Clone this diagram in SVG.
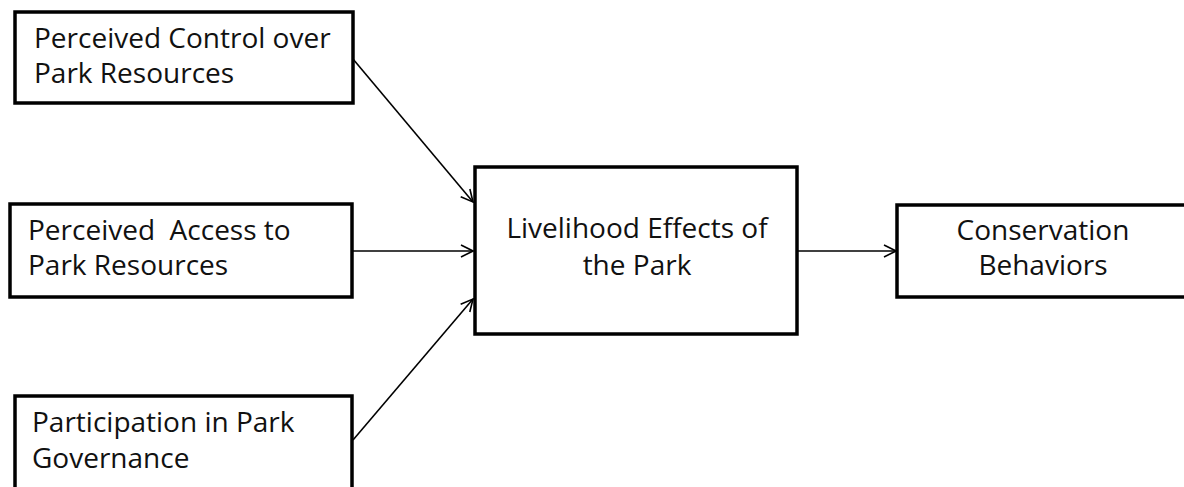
<svg xmlns="http://www.w3.org/2000/svg" width="1184" height="487" viewBox="0 0 1184 487">
  <style>
    .box { fill: #ffffff; stroke: #000000; stroke-width: 3.5; }
    .lbl { font-family: "Open Sans", "Noto Sans", sans-serif; font-size: 28px; fill: #111111; }
    .mid { text-anchor: middle; }
    .edge { fill: none; stroke: #000000; stroke-width: 1.6; }
  </style>
  <defs>
    <marker id="open-arrow" viewBox="0 0 14 14" refX="13" refY="7" markerWidth="14" markerHeight="14" markerUnits="userSpaceOnUse" orient="auto">
      <path d="M1,1 L13,7 L1,13" fill="none" stroke="#000000" stroke-width="1.6"/>
    </marker>
  </defs>
  <rect width="1184" height="487" fill="#ffffff"/>

  <g id="connectors">
    <line class="edge" x1="353" y1="59" x2="473" y2="202" marker-end="url(#open-arrow)"/>
    <line class="edge" x1="352" y1="251" x2="473" y2="251" marker-end="url(#open-arrow)"/>
    <line class="edge" x1="353" y1="440" x2="473" y2="299" marker-end="url(#open-arrow)"/>
    <line class="edge" x1="797" y1="251" x2="896" y2="251" marker-end="url(#open-arrow)"/>
  </g>

  <g id="perceived-control">
    <rect class="box" x="15" y="12" width="338" height="91"/>
    <text class="lbl" x="34" y="48">Perceived Control over</text>
    <text class="lbl" x="34" y="83">Park Resources</text>
  </g>

  <g id="perceived-access">
    <rect class="box" x="10" y="204" width="342" height="93"/>
    <text class="lbl" x="28" y="240" xml:space="preserve">Perceived  Access to</text>
    <text class="lbl" x="28" y="275">Park Resources</text>
  </g>

  <g id="participation">
    <rect class="box" x="15" y="396" width="337" height="96"/>
    <text class="lbl" x="32" y="432">Participation in Park</text>
    <text class="lbl" x="32" y="468">Governance</text>
  </g>

  <g id="livelihood-effects">
    <rect class="box" x="475" y="167" width="322" height="167"/>
    <text class="lbl mid" x="637" y="238">Livelihood Effects of</text>
    <text class="lbl mid" x="637" y="275">the Park</text>
  </g>

  <g id="conservation-behaviors">
    <rect class="box" x="897" y="205" width="300" height="92"/>
    <text class="lbl mid" x="1043" y="240">Conservation</text>
    <text class="lbl mid" x="1043" y="275">Behaviors</text>
  </g>
</svg>
